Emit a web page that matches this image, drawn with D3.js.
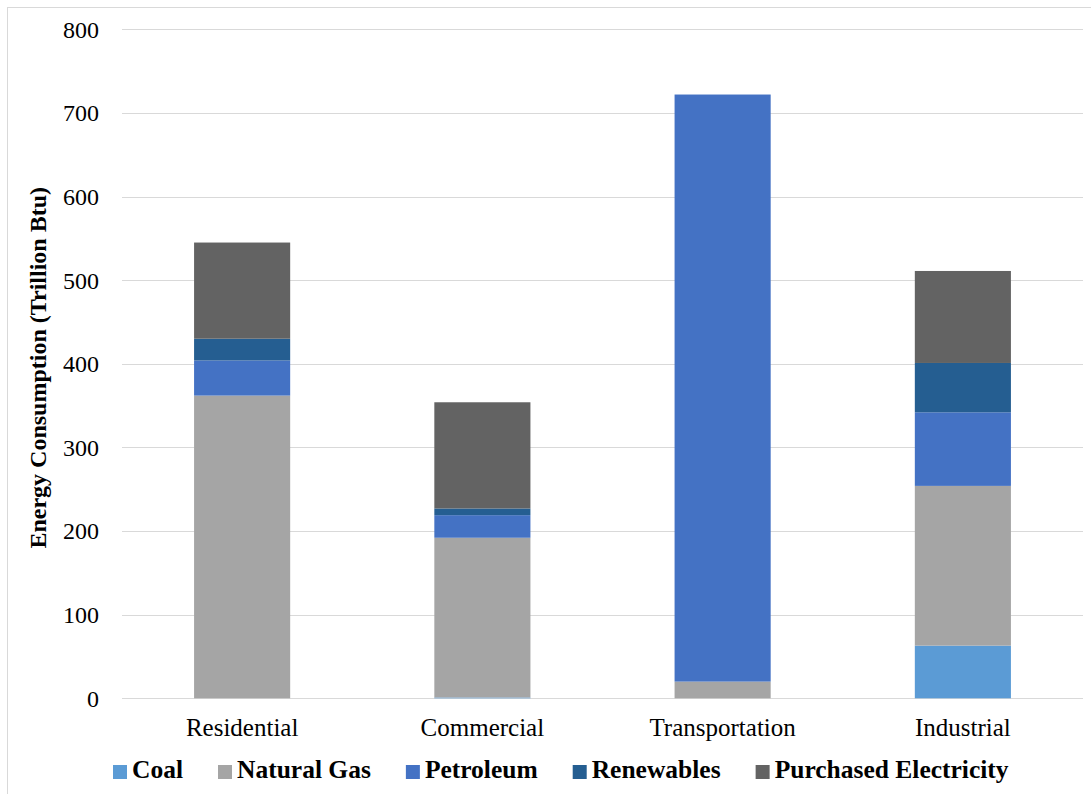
<!DOCTYPE html>
<html>
<head>
<meta charset="utf-8">
<script src="https://cdn.jsdelivr.net/npm/d3@7"></script>
<style>
  html, body { margin: 0; padding: 0; background: #fff; }
  svg { display: block; }
  svg text { font-family: 'Liberation Serif', 'Times New Roman', serif; }
</style>
</head>
<body>
<svg id="chart" width="1091" height="794"></svg>
<script>
const categories = ["Residential", "Commercial", "Transportation", "Industrial"];
const seriesNames = ["Coal", "Natural Gas", "Petroleum", "Renewables", "Purchased Electricity"];
const coal = [0, 1, 0, 63];
const naturalGas = [362, 191, 20, 191];
const petroleum = [42, 27, 702, 88];
const renewables = [26, 8, 0, 59];
const purchasedElectricity = [115, 127, 0, 110];
const yTicks = [0, 100, 200, 300, 400, 500, 600, 700, 800];
const colors = ["#5B9BD5", "#A5A5A5", "#4472C4", "#255E91", "#636363"];
const yTitle = "Energy Consumption (Trillion Btu)";

const seriesValues = [coal, naturalGas, petroleum, renewables, purchasedElectricity];
const rows = categories.map((c, i) => {
  const r = { category: c };
  seriesNames.forEach((s, j) => { r[s] = seriesValues[j][i]; });
  return r;
});

const FONT = "'Liberation Serif', 'Times New Roman', serif";
const svg = d3.select("#chart");
const plot = { left: 122, right: 1083, top: 29.3, bottom: 698.3 };

// outer chart border
svg.append("rect")
  .attr("x", 7.5).attr("y", 7.5)
  .attr("width", 1100).attr("height", 800)
  .attr("fill", "none").attr("stroke", "#d9d9d9").attr("stroke-width", 1);

const x = d3.scaleBand().domain(categories)
  .range([plot.left, plot.right]).paddingInner(0.6).paddingOuter(0.3);
const y = d3.scaleLinear().domain([0, 800]).range([plot.bottom, plot.top]);

// gridlines
svg.append("g").selectAll("line").data(yTicks).join("line")
  .attr("x1", plot.left).attr("x2", plot.right)
  .attr("y1", d => Math.round(y(d)) + 0.5).attr("y2", d => Math.round(y(d)) + 0.5)
  .attr("stroke", "#d9d9d9").attr("stroke-width", 1);

// y axis labels
const yAxis = d3.axisLeft(y).tickValues(yTicks).tickSize(0).tickPadding(0);
const yg = svg.append("g").attr("transform", `translate(99,0)`).call(yAxis);
yg.attr("font-family", null).attr("font-size", null);
yg.select(".domain").remove();
yg.selectAll("text")
  .style("font-family", FONT)
  .style("font-size", "24px").attr("fill", "#000").attr("dy", "0.33em");

// stacked bars
const stack = d3.stack().keys(seriesNames);
const stacked = stack(rows);
svg.append("g").selectAll("g").data(stacked).join("g")
  .attr("fill", (d, i) => colors[i])
  .selectAll("rect").data(d => d).join("rect")
  .attr("x", d => x(d.data.category))
  .attr("width", x.bandwidth())
  .attr("y", d => y(d[1]))
  .attr("height", d => Math.max(0, y(d[0]) - y(d[1])));

// x axis labels
const xAxis = d3.axisBottom(x).tickSize(0).tickPadding(0);
const xg = svg.append("g").attr("transform", `translate(0,${plot.bottom})`).call(xAxis);
xg.attr("font-family", null).attr("font-size", null);
xg.select(".domain").remove();
xg.selectAll("text")
  .style("font-family", FONT)
  .style("font-size", "25px").attr("fill", "#000")
  .attr("dy", null).attr("y", 38);

// y axis title
svg.append("text")
  .attr("transform", `translate(46,${(plot.top + plot.bottom) / 2 + 4}) rotate(-90)`)
  .attr("text-anchor", "middle")
  .style("font-family", FONT)
  .style("font-weight", "bold").style("font-size", "24px")
  .attr("fill", "#000")
  .text(yTitle);

// legend
const lg = svg.append("g");
let lx = 113;
const ly = 778;
seriesNames.forEach((s, i) => {
  const g = lg.append("g");
  g.append("rect").attr("x", lx).attr("y", ly - 13).attr("width", 14).attr("height", 14).attr("fill", colors[i]);
  const t = g.append("text").attr("x", lx + 19).attr("y", ly)
    .style("font-family", FONT)
    .style("font-weight", "bold").style("font-size", "25.5px").attr("fill", "#000")
    .text(s);
  const w = t.node().getComputedTextLength();
  lx = lx + 19 + w + 35;
});
</script>
</body>
</html>
